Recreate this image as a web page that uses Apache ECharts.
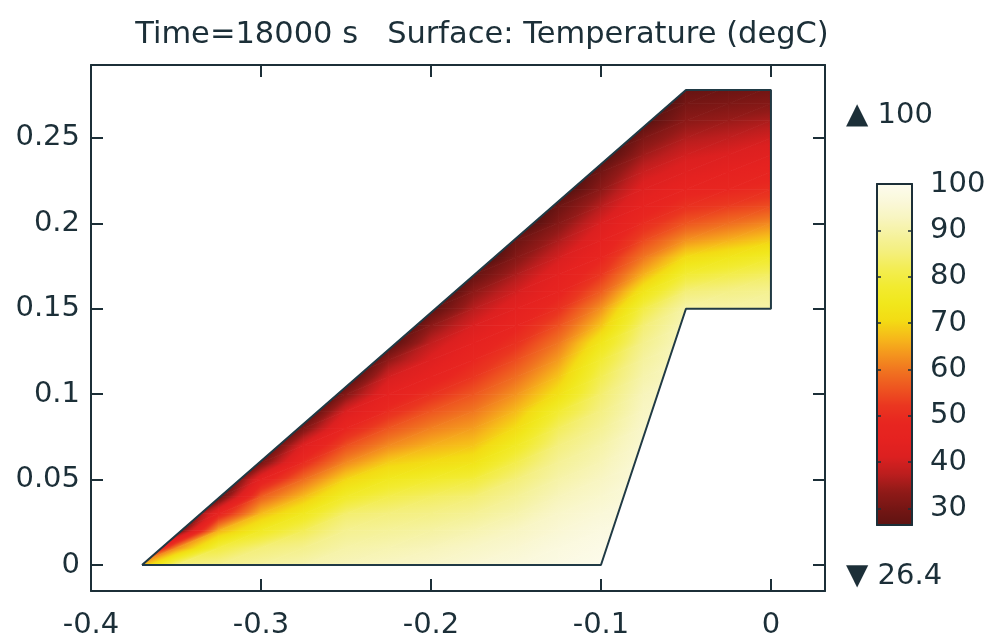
<!DOCTYPE html>
<html>
<head>
<meta charset="utf-8">
<script src="https://cdn.jsdelivr.net/npm/echarts@6/dist/echarts.min.js"></script>
<style>
html,body{margin:0;padding:0;background:#ffffff;}
#chart{width:991px;height:640px;}
</style>
</head>
<body>
<div id="chart"></div>
<script>
// ---------------- DATA ----------------
// Mesh node positions (m)
const gridX = [-0.375, -0.35, -0.325, -0.3, -0.275, -0.25, -0.225, -0.2, -0.175, -0.15, -0.125, -0.1, -0.075, -0.05, -0.025, 0];
const gridY = [0, 0.01, 0.02, 0.03, 0.04, 0.05, 0.06, 0.07, 0.08, 0.09, 0.10, 0.11, 0.12, 0.13, 0.14,
               0.15, 0.16, 0.17, 0.18, 0.19, 0.20, 0.21, 0.22, 0.23, 0.24, 0.25, 0.26, 0.27, 0.28];

// Temperature (degC) at the mesh nodes, one array per x column, indexed by gridY
const tempXm0375 = [62, 17, 9];
const tempXm0350 = [85, 62, 26, 18, 10];
const tempXm0325 = [87, 80, 66, 47, 27, 19, 11, 3];
const tempXm0300 = [89, 85, 76, 67, 57, 45, 30, 21, 13, 5];
const tempXm0275 = [90.5, 87, 82, 75, 67, 59, 50, 42, 31, 22, 14, 6];
const tempXm0250 = [92, 90, 87.5, 84, 77, 70, 62, 55, 48, 41, 32, 23.5, 15.5, 7.5];
const tempXm0225 = [93, 91, 88.5, 85.5, 81, 75, 69, 62, 56, 50, 45, 40, 33.5, 25, 17, 9];
const tempXm0200 = [94, 92, 89.5, 86.5, 83, 77.5, 71, 66, 61, 56, 51, 46, 42, 38, 33, 26, 18, 10];
const tempXm0175 = [95.5, 93.5, 91, 88, 84.5, 79.5, 73, 68, 64, 60, 56, 52, 48.5, 45, 41, 37, 33, 27.5, 19.5, 11.5, 3.5];
const tempXm0150 = [96.5, 95, 93, 90.5, 88, 85, 81, 76, 71, 67, 63, 59, 55, 51, 47.5, 44, 40, 36, 32, 28.5, 21, 13, 5];
const tempXm0125 = [98, 97, 95.5, 94, 92, 90, 88, 85.5, 82.5, 78, 72, 68, 64, 60, 55.5, 51, 47, 44, 40, 36, 32, 28.5, 22, 14, 6];
const tempXm0100 = [99.5, 98.5, 97.5, 96, 94.5, 93, 91.5, 90, 88, 86, 84, 81.5, 78.5, 74, 68, 63, 57, 52, 48, 44.5, 41, 37, 33, 29.5, 23.5, 15.5, 7.5];
const tempXm0075 = [99, 98.5, 98, 97.5, 97, 96.5, 96, 95, 94, 93, 92, 90.5, 89, 87, 84.5, 80.5, 73.5, 66, 60, 54.5, 50, 46, 42.5, 39, 35, 31, 25, 17, 9];
const tempXm0050 = [null, null, null, null, null, null, null, 96, 95.5, 95, 94.5, 94, 93.5, 93, 92, 90, 85, 78.5, 71, 63, 56, 51, 47, 43, 40, 36.5, 33, 30, 27];
const tempXm0025 = [null, null, null, null, null, null, null, null, null, null, null, null, null, null, null, 90, 86.5, 81, 74, 66, 59, 53, 48.5, 45, 41.5, 38, 34.5, 31, 28];
const tempX0000  = [null, null, null, null, null, null, null, null, null, null, null, null, null, null, null, 90, 87.5, 83, 77, 69, 62, 55, 50, 47, 43, 40, 36, 32, 29];

// Geometry of the model (m)
const domainOutline = [[-0.37, 0], [-0.1, 0], [-0.05, 0.15], [0, 0.15], [0, 0.278], [-0.05, 0.278], [-0.37, 0]];
const subdomainA = [[-0.37, 0], [-0.1, 0], [-0.05, 0.15], [-0.05, 0.278]];
const subdomainB = [[-0.05, 0.15], [0, 0.15], [0, 0.278], [-0.05, 0.278]];

// Colour range and colormap (evenly spaced over the range)
const tempRange = [26.4, 100];
const cmapColors = ['#5e1311', '#761614', '#921a18', '#bc1e1e', '#dc2020', '#e52220', '#e82620',
                    '#ea3620', '#ee5420', '#f07220', '#f4951e', '#f6ba1a', '#f3dc14', '#f1e71c',
                    '#f2eb30', '#f3ed52', '#f4ef7c', '#f5f29e', '#f8f5c0', '#faf8da', '#fdfcee'];

const titleText = 'Time=18000 s   Surface: Temperature (degC)';
const maxMarker = '\u25B2 100';
const minMarker = '\u25BC 26.4';

// ---------------- BUILD ----------------
const tempColumns = [tempXm0375, tempXm0350, tempXm0325, tempXm0300, tempXm0275, tempXm0250, tempXm0225,
  tempXm0200, tempXm0175, tempXm0150, tempXm0125, tempXm0100, tempXm0075, tempXm0050, tempXm0025, tempX0000];

function nodeVal(i, j) {
  const c = tempColumns[i];
  if (!c || j >= c.length) return null;
  const v = c[j];
  return (v === null || v === undefined) ? null : v;
}

const triangles = [];
for (let i = 0; i < gridX.length - 1; i++) {
  for (let j = 0; j < gridY.length - 1; j++) {
    const v00 = nodeVal(i, j), v10 = nodeVal(i + 1, j), v01 = nodeVal(i, j + 1), v11 = nodeVal(i + 1, j + 1);
    if (v00 === null || v10 === null || v01 === null || v11 === null) continue;
    const x0 = gridX[i], x1 = gridX[i + 1], y0 = gridY[j], y1 = gridY[j + 1];
    if (Math.abs(v00 - v11) <= Math.abs(v10 - v01)) {
      triangles.push([x0, y0, v00, x1, y0, v10, x1, y1, v11]);
      triangles.push([x0, y0, v00, x1, y1, v11, x0, y1, v01]);
    } else {
      triangles.push([x0, y0, v00, x1, y0, v10, x0, y1, v01]);
      triangles.push([x1, y0, v10, x1, y1, v11, x0, y1, v01]);
    }
  }
}

function hexToRgb(h) {
  return [parseInt(h.substr(1, 2), 16), parseInt(h.substr(3, 2), 16), parseInt(h.substr(5, 2), 16)];
}
const cmapRgb = cmapColors.map(hexToRgb);
const nC = cmapColors.length;
function colorAt(v) {
  let t = (v - tempRange[0]) / (tempRange[1] - tempRange[0]);
  t = Math.max(0, Math.min(1, t));
  const f = t * (nC - 1);
  const i = Math.min(Math.floor(f), nC - 2);
  const u = f - i;
  const a = cmapRgb[i], b = cmapRgb[i + 1];
  return 'rgb(' + Math.round(a[0] + (b[0] - a[0]) * u) + ',' + Math.round(a[1] + (b[1] - a[1]) * u) + ',' + Math.round(a[2] + (b[2] - a[2]) * u) + ')';
}
function knotValue(k) { return tempRange[0] + k * (tempRange[1] - tempRange[0]) / (nC - 1); }

function clipConvex(subject, clip) {
  let out = subject;
  for (let i = 0; i < clip.length; i++) {
    const A = clip[i], B = clip[(i + 1) % clip.length];
    const inp = out; out = [];
    if (!inp.length) break;
    const side = p => (B[0] - A[0]) * (p[1] - A[1]) - (B[1] - A[1]) * (p[0] - A[0]);
    for (let k = 0; k < inp.length; k++) {
      const P = inp[k], Q = inp[(k + 1) % inp.length];
      const sp = side(P), sq = side(Q);
      const pin = sp >= -1e-12, qin = sq >= -1e-12;
      if (pin) out.push(P);
      if (pin !== qin) {
        const t = sp / (sp - sq);
        out.push([P[0] + t * (Q[0] - P[0]), P[1] + t * (Q[1] - P[1])]);
      }
    }
  }
  return out;
}
function polyArea(p) {
  let s = 0;
  for (let i = 0; i < p.length; i++) { const a = p[i], b = p[(i + 1) % p.length]; s += a[0] * b[1] - b[0] * a[1]; }
  return Math.abs(s) / 2;
}

function renderTri(params, api) {
  const pts = [[api.value(0), api.value(1)], [api.value(3), api.value(4)], [api.value(6), api.value(7)]];
  const V = [api.value(2), api.value(5), api.value(8)];
  const polys = [];
  [subdomainA, subdomainB].forEach(part => {
    const c = clipConvex(pts, part);
    if (c.length >= 3 && polyArea(c) > 1e-9) polys.push(c);
  });
  if (!polys.length) return null;
  const P = pts.map(p => api.coord(p));
  const x1 = P[1][0] - P[0][0], y1 = P[1][1] - P[0][1];
  const x2 = P[2][0] - P[0][0], y2 = P[2][1] - P[0][1];
  const dv1 = V[1] - V[0], dv2 = V[2] - V[0];
  const det = x1 * y2 - x2 * y1;
  const vmin = Math.min(V[0], V[1], V[2]), vmax = Math.max(V[0], V[1], V[2]);
  let fill;
  if (Math.abs(det) < 1e-9 || vmax - vmin < 1e-6) {
    fill = colorAt(V[0]);
  } else {
    const a = (dv1 * y2 - dv2 * y1) / det;
    const b = (x1 * dv2 - x2 * dv1) / det;
    const g2 = a * a + b * b;
    const sx = P[0][0] + a * (vmin - V[0]) / g2, sy = P[0][1] + b * (vmin - V[0]) / g2;
    const ex = P[0][0] + a * (vmax - V[0]) / g2, ey = P[0][1] + b * (vmax - V[0]) / g2;
    const stops = [{offset: 0, color: colorAt(vmin)}];
    for (let k = 0; k < nC; k++) {
      const kv = knotValue(k);
      if (kv > vmin && kv < vmax) stops.push({offset: (kv - vmin) / (vmax - vmin), color: cmapColors[k]});
    }
    stops.push({offset: 1, color: colorAt(vmax)});
    fill = {type: 'linear', x: sx, y: sy, x2: ex, y2: ey, colorStops: stops, global: true};
  }
  return {
    type: 'group',
    children: polys.map(poly => ({
      type: 'polygon',
      shape: {points: poly.map(p => api.coord(p))},
      style: {fill: fill, stroke: fill, lineWidth: 0.8}
    }))
  };
}

// ---------------- CHART ----------------
const ink = '#1c2f38';
const fontFamily = 'DejaVu Sans';
const lbl = {fontSize: 29, color: ink, fontFamily: fontFamily};
const axLine = {show: true, onZero: false, lineStyle: {color: ink, width: 2}};
const tickIn = {show: true, inside: true, length: 12, lineStyle: {color: ink, width: 2}};
const cbTick = {show: true, inside: true, length: 4, lineStyle: {color: ink, width: 1.5}};

const chart = echarts.init(document.getElementById('chart'), null, {renderer: 'canvas'});
chart.setOption({
  animation: false,
  backgroundColor: '#ffffff',
  textStyle: {fontFamily: fontFamily},
  title: [
    {text: titleText, left: 477, top: 15, textAlign: 'center', textStyle: {fontSize: 30.5, fontWeight: 'normal', color: ink, fontFamily: fontFamily}},
    {text: maxMarker, left: 841, top: 96, textStyle: {fontSize: 29, fontWeight: 'normal', color: ink, fontFamily: fontFamily}},
    {text: minMarker, left: 841, top: 557, textStyle: {fontSize: 29, fontWeight: 'normal', color: ink, fontFamily: fontFamily}}
  ],
  grid: [
    {left: 91, top: 65, width: 734, height: 526, show: false, containLabel: false, outerBoundsMode: 'none'},
    {left: 877, top: 184, width: 35, height: 341, show: false, containLabel: false, outerBoundsMode: 'none'}
  ],
  xAxis: [
    {gridIndex: 0, type: 'value', min: -0.4, max: 0.0318, interval: 0.1, position: 'bottom', z: 10,
     axisLine: axLine, axisTick: tickIn, splitLine: {show: false},
     axisLabel: Object.assign({margin: 20, showMaxLabel: false}, lbl)},
    {gridIndex: 0, type: 'value', min: -0.4, max: 0.0318, interval: 0.1, position: 'top', z: 10,
     axisLine: axLine, axisTick: tickIn, splitLine: {show: false}, axisLabel: {show: false}},
    {gridIndex: 1, type: 'value', min: 0, max: 1, position: 'bottom', z: 10,
     axisLine: axLine, axisTick: {show: false}, splitLine: {show: false}, axisLabel: {show: false}},
    {gridIndex: 1, type: 'value', min: 0, max: 1, position: 'top', z: 10,
     axisLine: axLine, axisTick: {show: false}, splitLine: {show: false}, axisLabel: {show: false}}
  ],
  yAxis: [
    {gridIndex: 0, type: 'value', min: -0.0152, max: 0.2927, splitNumber: 6, position: 'left', z: 10,
     axisLine: axLine, axisTick: tickIn, splitLine: {show: false},
     axisLabel: Object.assign({margin: 11, showMinLabel: false, showMaxLabel: false}, lbl)},
    {gridIndex: 0, type: 'value', min: -0.0152, max: 0.2927, splitNumber: 6, position: 'right', z: 10,
     axisLine: axLine, axisTick: tickIn, splitLine: {show: false}, axisLabel: {show: false}},
    {gridIndex: 1, type: 'value', min: tempRange[0], max: tempRange[1], splitNumber: 8, position: 'right', z: 10,
     axisLine: axLine, axisTick: cbTick, splitLine: {show: false},
     axisLabel: Object.assign({margin: 18, showMinLabel: false}, lbl)},
    {gridIndex: 1, type: 'value', min: tempRange[0], max: tempRange[1], splitNumber: 8, position: 'left', z: 10,
     axisLine: axLine, axisTick: cbTick, splitLine: {show: false}, axisLabel: {show: false}}
  ],
  visualMap: {
    type: 'continuous', min: tempRange[0], max: tempRange[1], inRange: {color: cmapColors},
    left: 877, top: 184, itemWidth: 35, itemHeight: 341, padding: 0, calculable: false,
    hoverLink: false, seriesIndex: 2, z: 4, textStyle: {color: ink}
  },
  series: [
    {type: 'custom', xAxisIndex: 0, yAxisIndex: 0, renderItem: renderTri, data: triangles,
     encode: {x: [0, 3, 6], y: [1, 4, 7]}, silent: true, z: 2},
    {type: 'line', xAxisIndex: 0, yAxisIndex: 0, data: domainOutline, symbol: 'none', silent: true, z: 3,
     lineStyle: {color: '#203a45', width: 2}},
    {type: 'line', xAxisIndex: 2, yAxisIndex: 2, data: [], symbol: 'none', silent: true}
  ]
});
</script>
</body>
</html>
